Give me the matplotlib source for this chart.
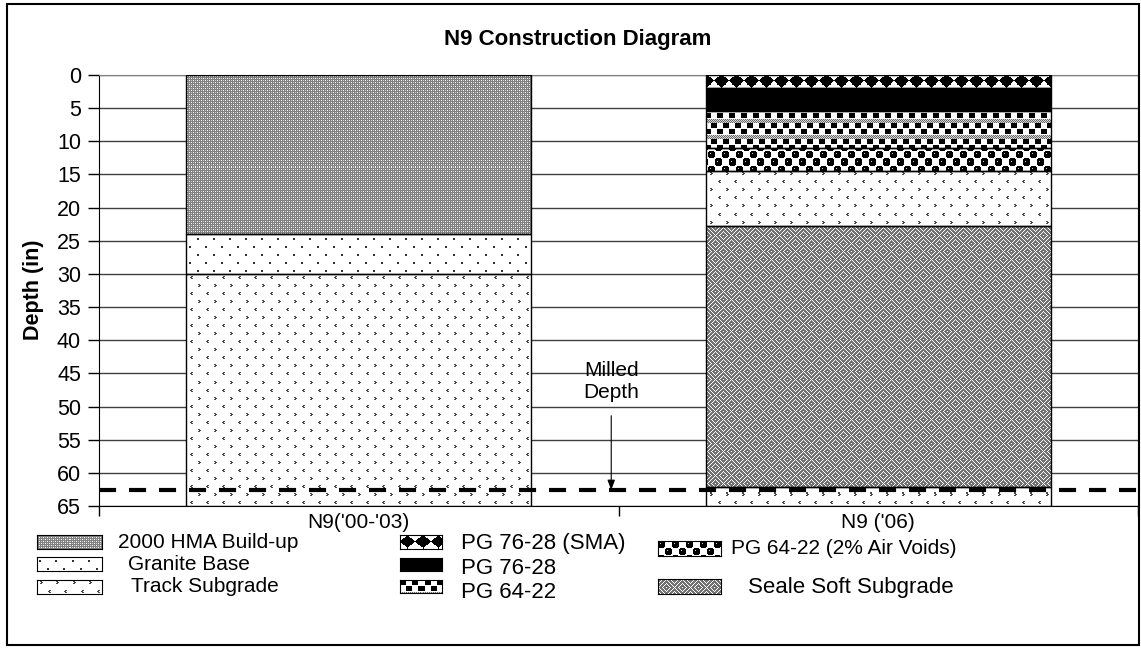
import numpy as np
import matplotlib
matplotlib.use("Agg")
import matplotlib.pyplot as plt
from matplotlib.patches import Rectangle

plt.rcParams["font.family"] = ["Liberation Sans", "DejaVu Sans"]

W, H = 1141, 648

# layer thicknesses (in), listed from the surface down
sections = ["N9('00-'03)", "N9 ('06)"]
layers_0003 = ["2000 HMA Build-up", "Granite Base", "Track Subgrade"]
thick_0003 = [24.0, 6.0, 35.0]
layers_06 = ["PG 76-28 (SMA)", "PG 76-28", "PG 64-22", "PG 64-22 (2% Air Voids)",
             "Track Subgrade", "Seale Soft Subgrade", "Track Subgrade"]
thick_06 = [2.0, 3.5, 5.5, 3.5, 8.3, 39.3, 2.9]
milled_depth = 62.6
depth_ticks = list(range(0, 70, 5))


# ---- fill textures (grey level tiles, 0 = black, 1 = white) ----
def tile_hma():
    t = np.full((4, 4), 0.5)
    t[0, 0] = t[2, 2] = 1.0
    t[0, 2] = t[2, 0] = 0.8
    return t


def tile_granite():
    t = np.ones((16, 16))
    t[3:5, 2:4] = 0.2
    t[11:13, 10:12] = 0.2
    return t


def tile_track():
    t = np.ones((16, 16))
    gt = np.array([[1, 1, 0], [0, 1, 1], [1, 1, 0]])   # ">"
    lt = gt[:, ::-1]                                    # "<"
    t[2:5, 3:6][gt == 1] = 0.3
    t[10:13, 11:14][lt == 1] = 0.3
    return t


def tile_sma():
    y, x = np.mgrid[0:13, 0:15]
    d = np.abs(x - 7) / 7.5 + np.abs(y - 6) / 6.5
    return np.where(d <= 1.0, 0.0, 1.0)


def tile_black():
    return np.zeros((2, 2))


def tile_pg6422():
    t = np.ones((16, 12))
    t[0:5, 0:6] = 0.0
    t[6:11, 6:12] = 0.0
    i, j = np.mgrid[0:4, 0:12]
    t[12:16] = np.where((i + j) % 2 == 0, 0.4, 0.85)
    return t


def tile_voids():
    y, x = np.mgrid[0:14, 0:14] + 0.5
    r1 = np.hypot(x - 3.5, y - 3.5)
    r2 = np.hypot(x - 10.5, y - 10.5)
    t = np.ones((14, 14))
    t[(r1 < 3.8) | (r2 < 3.8)] = 0.0
    t[(np.hypot(x - 2.5, y - 2.5) < 1.0) | (np.hypot(x - 9.5, y - 9.5) < 1.0)] = 0.8
    return t


def tile_seale():
    i, j = np.mgrid[0:16, 0:16]
    a = (i // 8 + j // 8) % 2 == 0
    light = np.where(a, (i + j) % 4 == 0, (i - j) % 4 == 0)
    return np.where(light, 1.0, 0.45)


TEXTURES = {
    "2000 HMA Build-up": tile_hma,
    "Granite Base": tile_granite,
    "Track Subgrade": tile_track,
    "PG 76-28 (SMA)": tile_sma,
    "PG 76-28": tile_black,
    "PG 64-22": tile_pg6422,
    "PG 64-22 (2% Air Voids)": tile_voids,
    "Seale Soft Subgrade": tile_seale,
}


def texture(name, h, w):
    t = TEXTURES[name]()
    reps = (h // t.shape[0] + 1, w // t.shape[1] + 1)
    return np.tile(t, reps)[:h, :w]


def px(x, y):
    return x / W, 1 - y / H


fig = plt.figure(figsize=(W / 100, H / 100), dpi=100)

ax_l, ax_t, ax_r, ax_b = 99, 75, 1138, 506
ax = fig.add_axes([ax_l / W, 1 - ax_b / H, (ax_r - ax_l) / W, (ax_b - ax_t) / H])
xlim = (-0.5, 1.5)
ylim = (65, 0)

for i, (names, thick) in enumerate([(layers_0003, thick_0003), (layers_06, thick_06)]):
    top = 0.0
    for name, t in zip(names, thick):
        bar = ax.bar(i, t, bottom=top, width=0.664, facecolor="none",
                     edgecolor="black", lw=1.0, zorder=3)[0]
        img = texture(name, ax_b - ax_t, ax_r - ax_l)
        im = ax.imshow(img, extent=(xlim[0], xlim[1], ylim[0], ylim[1]),
                       cmap="gray", vmin=0, vmax=1, interpolation="nearest",
                       aspect="auto", zorder=2)
        im.set_clip_path(bar)
        top += t

ax.set_xlim(*xlim)
ax.set_ylim(*ylim)

ax.set_yticks(depth_ticks)
ax.yaxis.grid(True, color="#404040", lw=1.0)
ax.set_axisbelow(True)
ax.tick_params(axis="y", direction="out", length=8, width=1, pad=5, labelsize=15.5)

ax.set_xticks([0, 1])
ax.set_xticklabels(sections)
ax.set_xticks([-0.5, 0.5, 1.5], minor=True)
ax.tick_params(axis="x", which="major", length=0, pad=5, labelsize=15)
ax.tick_params(axis="x", which="minor", direction="out", length=7, width=1)

for side in ["left", "bottom"]:
    ax.spines[side].set_color("black")
for side in ["top", "right"]:
    ax.spines[side].set_color("#808080")

# milled depth line and callout
ax.axhline(milled_depth, color="black", lw=3, dashes=(4.1, 3.1), zorder=4)
ax.annotate("Milled\nDepth", xy=(0.486, milled_depth), xytext=(0.486, 46.2),
            ha="center", va="center", fontsize=15, linespacing=1.2,
            arrowprops=dict(arrowstyle="-|>,head_length=0.4,head_width=0.15",
                            color="black", lw=0.8, shrinkA=8, shrinkB=0))

fig.text(*px(578, 40), "N9 Construction Diagram", fontsize=16, weight="bold",
         ha="center", va="center")
fig.text(*px(33, 290), "Depth (in)", fontsize=15.5, weight="bold", rotation=90,
         ha="center", va="center")

# legend, three hand-placed columns
legend_items = [
    ("2000 HMA Build-up", (37, 535, 102, 549), (118, 542), 15),
    ("Granite Base", (37, 557, 102, 571), (128, 564), 15),
    ("Track Subgrade", (37, 580, 102, 594), (131, 587), 15),
    ("PG 76-28 (SMA)", (400, 535, 442, 549), (461, 543), 16),
    ("PG 76-28", (400, 558, 442, 571), (461, 569), 16),
    ("PG 64-22", (400, 580, 442, 593), (461, 592), 16),
    ("PG 64-22 (2% Air Voids)", (658, 541, 721, 556), (731, 548), 15),
    ("Seale Soft Subgrade", (658, 579, 721, 594), (748, 587), 16),
]
for name, (x0, y0, x1, y1), (tx, ty), fs in legend_items:
    sw = fig.add_axes([x0 / W, 1 - y1 / H, (x1 - x0) / W, (y1 - y0) / H])
    sw.imshow(texture(name, y1 - y0, x1 - x0), cmap="gray", vmin=0, vmax=1,
              interpolation="nearest", aspect="auto")
    sw.set_xticks([])
    sw.set_yticks([])
    for s in sw.spines.values():
        s.set_linewidth(0.8)
    fig.text(*px(tx, ty), name, fontsize=fs, ha="left", va="center")

# chart border
fig.patches.append(Rectangle((7 / W, 3 / H), 1132 / W, 641 / H, fill=False,
                             lw=1.5, edgecolor="black", transform=fig.transFigure))

fig.savefig("out.png", dpi=100)
